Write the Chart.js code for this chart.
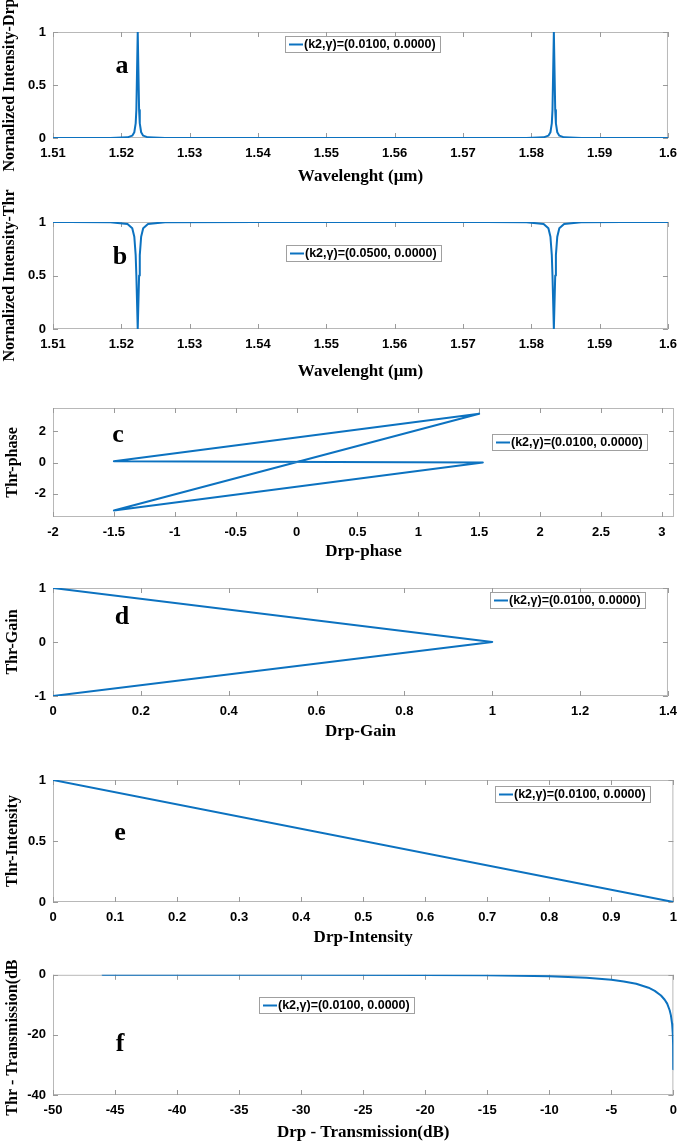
<!DOCTYPE html>
<html><head><meta charset="utf-8">
<script src="https://cdn.jsdelivr.net/npm/chart.js@4.4.1/dist/chart.umd.min.js"></script>
<style>
html,body{margin:0;padding:0;background:#fff;}
body{width:685px;height:1144px;position:relative;overflow:hidden;}
.p{position:absolute;left:0;width:685px;}
canvas{display:block;}
</style></head><body>
<div class="p" style="top:0px"><canvas id="ca" width="685" height="187"></canvas></div>
<div class="p" style="top:188px"><canvas id="cb" width="685" height="194"></canvas></div>
<div class="p" style="top:385px"><canvas id="cc" width="685" height="177"></canvas></div>
<div class="p" style="top:565px"><canvas id="cd" width="685" height="177"></canvas></div>
<div class="p" style="top:752px"><canvas id="ce" width="685" height="196"></canvas></div>
<div class="p" style="top:960px"><canvas id="cf" width="685" height="183"></canvas></div>
<script>
// ---------- DATA ----------
const legendA = '(k2,\u03b3)=(0.0100, 0.0000)';
const legendB = '(k2,\u03b3)=(0.0500, 0.0000)';

// (a) drop-port normalized intensity vs wavelength (um)
const waveA = [1.5100, 1.5124, 1.5184, 1.5209, 1.5216, 1.5219, 1.5221, 1.5222, 1.5224, 1.5226, 1.5227, 1.5229, 1.5232, 1.5239, 1.5264, 1.5400, 1.5600, 1.5733, 1.5793, 1.5818, 1.5825, 1.5828, 1.5830, 1.5831, 1.5833, 1.5835, 1.5836, 1.5838, 1.5841, 1.5848, 1.5873, 1.5933, 1.6000];
const drpA  = [0.0001, 0.0002, 0.0009, 0.0064, 0.022, 0.054, 0.138, 0.265, 1, 0.265, 0.138, 0.054, 0.022, 0.0064, 0.0009, 0.0002, 0.0001, 0.0002, 0.0009, 0.0064, 0.022, 0.054, 0.138, 0.265, 1, 0.265, 0.138, 0.054, 0.022, 0.0064, 0.0009, 0.0002, 0.0001];

// (b) through-port normalized intensity vs wavelength (um)
const waveB = [1.5100, 1.5124, 1.5184, 1.5209, 1.5216, 1.5219, 1.5221, 1.5222, 1.5224, 1.5226, 1.5227, 1.5229, 1.5232, 1.5239, 1.5264, 1.5400, 1.5600, 1.5733, 1.5793, 1.5818, 1.5825, 1.5828, 1.5830, 1.5831, 1.5833, 1.5835, 1.5836, 1.5838, 1.5841, 1.5848, 1.5873, 1.5933, 1.6000];
const thrB  = [1, 0.999, 0.9975, 0.982, 0.941, 0.862, 0.69, 0.5, 0, 0.5, 0.69, 0.862, 0.941, 0.982, 0.9975, 0.999, 1, 0.999, 0.9975, 0.982, 0.941, 0.862, 0.69, 0.5, 0, 0.5, 0.69, 0.862, 0.941, 0.982, 0.9975, 0.999, 1];

// (c) phase loop
const phaseDrp = [1.53, -1.50, 1.50, -1.50, 1.53];
const phaseThr = [0.00, 0.08, 3.13, -3.08, 0.00];

// (d) gain
const gainDrp = [0, 1, 0];
const gainThr = [1, 0, -1];

// (e) intensity
const intDrp = [0, 1];
const intThr = [1, 0];

// (f) transmission in dB
const trDrp = [-46, -40, -30, -20, -15, -10, -7, -5, -4, -3, -2, -1.5, -1, -0.7, -0.5, -0.3, -0.2, -0.1, -0.05, -0.02, -0.01, -0.003];
const trThr = [0, -0.0004, -0.004, -0.04, -0.14, -0.46, -0.97, -1.65, -2.2, -3.0, -4.3, -5.35, -6.9, -8.3, -9.6, -11.8, -13.5, -16.4, -19.4, -23.4, -26.4, -31.4];

// tick values
const ticksWave = [1.51, 1.52, 1.53, 1.54, 1.55, 1.56, 1.57, 1.58, 1.59, 1.6];
const ticksNorm = [0, 0.5, 1];
const ticksPhaseX = [-2, -1.5, -1, -0.5, 0, 0.5, 1, 1.5, 2, 2.5, 3];
const ticksPhaseY = [-2, 0, 2];
const ticksGainX = [0, 0.2, 0.4, 0.6, 0.8, 1, 1.2, 1.4];
const ticksGainY = [-1, 0, 1];
const ticksIntX = [0, 0.1, 0.2, 0.3, 0.4, 0.5, 0.6, 0.7, 0.8, 0.9, 1];
const ticksIntY = [0, 0.5, 1];
const ticksDbX = [-50, -45, -40, -35, -30, -25, -20, -15, -10, -5, 0];
const ticksDbY = [-40, -20, 0];

// ---------- STYLE ----------
const BLUE = '#0c72c0';
const tickFont = {family: '"Liberation Sans", Arial, sans-serif', size: 13, weight: 'bold'};
const xTitleFont = {family: '"Liberation Serif", "Times New Roman", serif', size: 17, weight: 'bold'};
const yTitleFont = {family: '"Liberation Serif", "Times New Roman", serif', size: 16, weight: 'bold'};

const framePlugin = {
  id: 'frame',
  beforeDatasetsDraw(chart) {
    const {ctx, chartArea: a} = chart;
    const xs = chart.scales.x, ys = chart.scales.y;
    ctx.save();
    ctx.strokeStyle = '#b8b8b8';
    ctx.lineWidth = 1;
    ctx.strokeRect(a.left + 0.5, a.top + 0.5, a.right - a.left - 1, a.bottom - a.top - 1);
    ctx.strokeStyle = '#9a9a9a';
    ctx.beginPath();
    xs.ticks.forEach(t => {
      const p = Math.round(xs.getPixelForValue(t.value)) + 0.5;
      ctx.moveTo(p, a.bottom); ctx.lineTo(p, a.bottom - 5);
      ctx.moveTo(p, a.top); ctx.lineTo(p, a.top + 5);
    });
    ys.ticks.forEach(t => {
      const p = Math.round(ys.getPixelForValue(t.value)) + 0.5;
      ctx.moveTo(a.left, p); ctx.lineTo(a.left + 5, p);
      ctx.moveTo(a.right, p); ctx.lineTo(a.right - 5, p);
    });
    ctx.stroke();
    ctx.restore();
  },
  afterDraw(chart, args, o) {
    const {ctx, chartArea: a} = chart;
    ctx.save();
    // panel letter
    ctx.font = 'bold 26px "Liberation Serif", "Times New Roman", serif';
    ctx.fillStyle = '#000';
    ctx.textAlign = 'center';
    ctx.textBaseline = 'middle';
    ctx.fillText(o.letter, a.left + o.lx, a.top + o.ly);
    // legend
    const label = chart.data.datasets[0].label;
    ctx.font = 'bold 12.5px "Liberation Sans", Arial, sans-serif';
    const tw = ctx.measureText(label).width;
    const bx = Math.round(a.left + o.legX), by = Math.round(a.top + o.legY), bh = 16;
    const bw = Math.round(4 + 14 + 1 + tw + 4);
    ctx.fillStyle = '#fff';
    ctx.fillRect(bx, by, bw, bh);
    ctx.strokeStyle = '#a0a0a0';
    ctx.lineWidth = 1;
    ctx.strokeRect(bx + 0.5, by + 0.5, bw, bh);
    ctx.strokeStyle = BLUE;
    ctx.lineWidth = 2;
    ctx.beginPath();
    ctx.moveTo(bx + 4, by + bh / 2 + 0.5);
    ctx.lineTo(bx + 18, by + bh / 2 + 0.5);
    ctx.stroke();
    ctx.fillStyle = '#000';
    ctx.textAlign = 'left';
    ctx.fillText(label, bx + 19, by + bh / 2 + 1);
    ctx.restore();
  }
};

function fmt(v) { return String(+Number(v).toFixed(4)); }

function makeChart(id, c) {
  return new Chart(document.getElementById(id), {
    type: 'scatter',
    data: {
      datasets: [{
        label: c.label,
        data: c.xs.map((x, i) => ({x: x, y: c.ys[i]})),
        showLine: true, borderColor: BLUE, backgroundColor: BLUE,
        borderWidth: 2, pointRadius: 0, tension: 0, fill: false,
        borderJoinStyle: 'round', borderCapStyle: 'round'
      }]
    },
    options: {
      responsive: false, animation: false, events: [],
      layout: {padding: {top: c.padTop, right: 11, left: 0, bottom: 0}},
      plugins: {
        legend: {display: false}, tooltip: {enabled: false},
        frame: {letter: c.letter, lx: c.lx, ly: c.ly, legX: c.legX, legY: c.legY}
      },
      scales: {
        x: {
          type: 'linear', position: 'bottom', min: c.xmin, max: c.xmax,
          grid: {display: false, drawTicks: false}, border: {display: false},
          ticks: {font: tickFont, color: '#000', padding: 8, maxRotation: 0, autoSkip: false, callback: fmt},
          afterBuildTicks: s => { s.ticks = c.xt.map(v => ({value: v})); },
          afterFit: s => { s.height = c.xAxisH; },
          title: {display: true, text: c.xTitle, font: xTitleFont, color: '#000', padding: 0}
        },
        y: {
          type: 'linear', position: 'left', min: c.ymin, max: c.ymax,
          grid: {display: false, drawTicks: false}, border: {display: false},
          ticks: {font: tickFont, color: '#000', padding: 7, autoSkip: false, callback: fmt},
          afterBuildTicks: s => { s.ticks = c.yt.map(v => ({value: v})); },
          afterFit: s => { s.width = 53; },
          title: {display: true, text: c.yTitle, font: yTitleFont, color: '#000', padding: {top: c.yTitlePad, bottom: 0}}
        }
      }
    },
    plugins: [framePlugin]
  });
}

makeChart('ca', {label: legendA, xs: waveA, ys: drpA, xmin: 1.51, xmax: 1.6, ymin: 0, ymax: 1,
  xt: ticksWave, yt: ticksNorm, padTop: 32, xAxisH: 49, yTitlePad: 0,
  xTitle: 'Wavelenght (\u03bcm)', yTitle: 'Nornalized Intensity-Drp',
  letter: 'a', lx: 69, ly: 34, legX: 232, legY: 4});

makeChart('cb', {label: legendB, xs: waveB, ys: thrB, xmin: 1.51, xmax: 1.6, ymin: 0, ymax: 1,
  xt: ticksWave, yt: ticksNorm, padTop: 34, xAxisH: 53, yTitlePad: 0,
  xTitle: 'Wavelenght (\u03bcm)', yTitle: 'Nornalized Intensity-Thr',
  letter: 'b', lx: 67, ly: 35, legX: 233, legY: 23});

makeChart('cc', {label: legendA, xs: phaseDrp, ys: phaseThr, xmin: -2, xmax: 3.1, ymin: -3.5, ymax: 3.5,
  xt: ticksPhaseX, yt: ticksPhaseY, padTop: 23, xAxisH: 45, yTitlePad: 3,
  xTitle: 'Drp-phase', yTitle: 'Thr-phase',
  letter: 'c', lx: 65, ly: 27, legX: 439, legY: 26});

makeChart('cd', {label: legendA, xs: gainDrp, ys: gainThr, xmin: 0, xmax: 1.4, ymin: -1, ymax: 1,
  xt: ticksGainX, yt: ticksGainY, padTop: 23, xAxisH: 46, yTitlePad: 3,
  xTitle: 'Drp-Gain', yTitle: 'Thr-Gain',
  letter: 'd', lx: 69, ly: 29, legX: 437, legY: 4});

makeChart('ce', {label: legendA, xs: intDrp, ys: intThr, xmin: 0, xmax: 1, ymin: 0, ymax: 1,
  xt: ticksIntX, yt: ticksIntY, padTop: 28, xAxisH: 46, yTitlePad: 3,
  xTitle: 'Drp-Intensity', yTitle: 'Thr-Intensity',
  letter: 'e', lx: 67, ly: 53, legX: 442, legY: 6});

makeChart('cf', {label: legendA, xs: trDrp, ys: trThr, xmin: -50, xmax: 0, ymin: -40, ymax: 0,
  xt: ticksDbX, yt: ticksDbY, padTop: 13, xAxisH: 48, yTitlePad: 3,
  xTitle: 'Drp - Transmission(dB)', yTitle: 'Thr - Transmission(dB)',
  letter: 'f', lx: 67, ly: 69, legX: 206, legY: 22});
</script>
</body></html>
